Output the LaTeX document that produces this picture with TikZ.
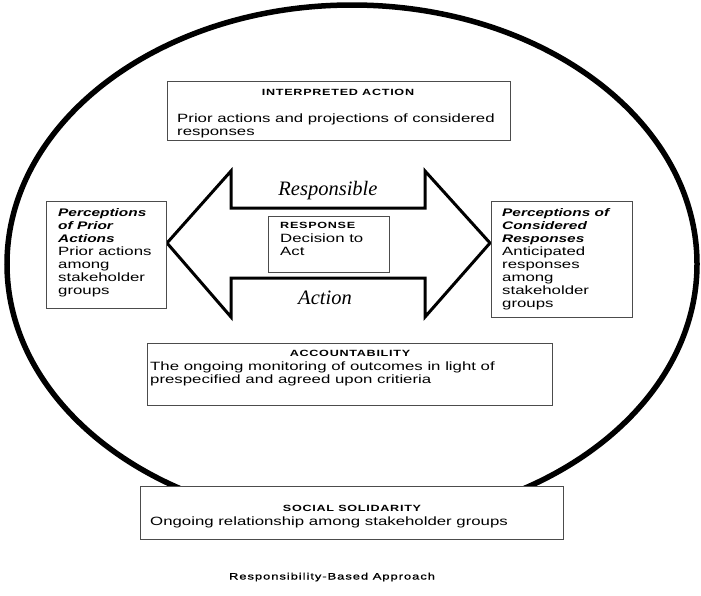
\documentclass[tikz,border=0pt]{standalone}
\usepackage{fontspec}
\setmainfont{Liberation Sans}[FakeStretch=1.4]
\newfontfamily\bodyf[FakeStretch=1.4]{Liberation Sans}
\newfontfamily\titlef[FakeStretch=1.4,LetterSpace=8]{Liberation Sans}
\newfontfamily\capf[FakeStretch=1.4,LetterSpace=10,FakeBold=1]{Liberation Sans}
\newfontfamily\serifi{Liberation Serif}
\newcommand\pbi{\bfseries\itshape\fontsize{11}{13}\selectfont}
\tikzset{
  boxst/.style={draw=black!70, line width=1.2pt, fill=white, inner sep=0pt, anchor=north west},
  ttl/.style={font=\titlef\bfseries\fontsize{9}{10}\selectfont, inner sep=0pt, anchor=base},
  body/.style={font=\bodyf\fontsize{12}{13}\selectfont, inner sep=0pt, align=left, anchor=north west},
  bodyline/.style={font=\bodyf\fontsize{12}{13}\selectfont, inner sep=0pt, anchor=base west},
  rlabel/.style={font=\serifi\itshape\fontsize{20.5}{24}\selectfont, inner sep=0pt, anchor=base},
  capst/.style={font=\capf\fontsize{9.3}{11}\selectfont, inner sep=0pt, anchor=base},
  arrowst/.style={draw=black, line width=3pt, line join=miter, fill=white},
  ringst/.style={draw=black, line width=5.5pt}
}
\begin{document}
\begin{tikzpicture}[x=1pt,y=-1pt]
\useasboundingbox (0,0) rectangle (701,595);
% outer ring
\draw[ringst] (352,264) ellipse [x radius=345pt, y radius=259pt];
% double block arrow
\draw[arrowst] (167,243) -- (231,171) -- (231,208) -- (425,208) -- (425,171)
  -- (490,243) -- (425,317) -- (425,278) -- (231,278) -- (231,317) -- cycle;
\node[rlabel] (respl) at (328,195) {Responsible};
\node[rlabel] (actl) at (325,304) {Action};
% boxes
\node[boxst, minimum width=343pt, minimum height=59pt] (ia) at (167,81) {};
\node[boxst, minimum width=120pt, minimum height=107pt] (lp) at (46,201) {};
\node[boxst, minimum width=121pt, minimum height=56pt] (rs) at (268,216) {};
\node[boxst, minimum width=141pt, minimum height=116pt] (rp) at (491,201) {};
\node[boxst, minimum width=405pt, minimum height=62pt] (ac) at (147,343) {};
\node[boxst, minimum width=423pt, minimum height=53pt] (ss) at (140,486) {};
% interpreted action
\node[ttl] (iat) at (338,95) {INTERPRETED ACTION};
\node[body] (iab) at (177,113.7) {Prior actions and projections of considered\\responses};
% left perceptions
\node[body] (lpt) at (58,208) {{\pbi Perceptions}\\{\pbi of Prior}\\{\pbi Actions}\\Prior actions\\among\\stakeholder\\groups};
% response
\node[ttl, anchor=base west] (rst) at (280,228) {RESPONSE};
\node[body] (rsb) at (280,233.7) {Decision to\\Act};
% right perceptions
\node[body] (rpt) at (502,208) {{\pbi Perceptions of}\\{\pbi Considered}\\{\pbi Responses}\\Anticipated\\responses\\among\\stakeholder\\groups};
% accountability
\node[ttl] (act) at (350,356) {ACCOUNTABILITY};
\node[body] (acb) at (150,361.7) {The ongoing monitoring of outcomes in light of\\prespecified and agreed upon critieria};
% social solidarity
\node[ttl] (sst) at (352,511) {SOCIAL SOLIDARITY};
\node[bodyline] (ssb) at (150,525.3) {Ongoing relationship among stakeholder groups};
% caption
\node[capst] (cap) at (332,579.5) {Responsibility-Based Approach};
\end{tikzpicture}
\end{document}
